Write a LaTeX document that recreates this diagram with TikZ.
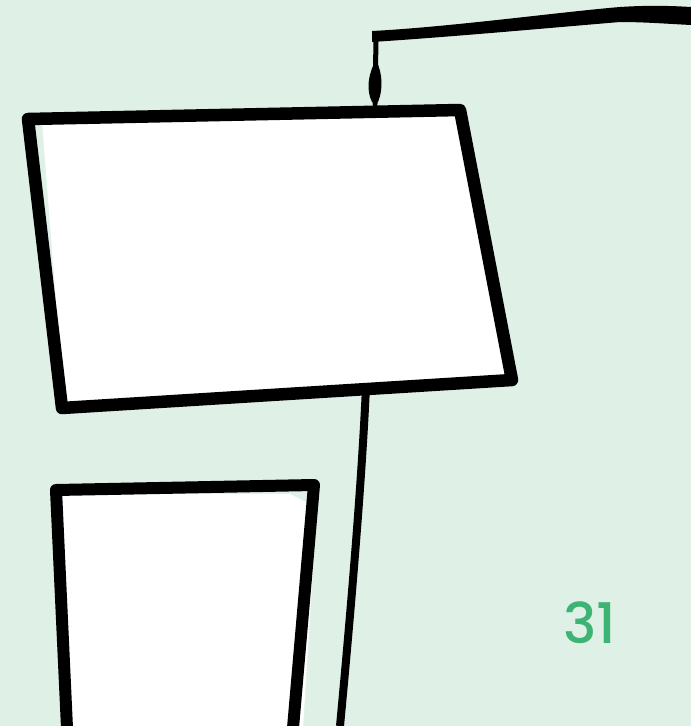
\documentclass[tikz,border=0pt]{standalone}
\usepackage{fontspec}
\newfontfamily\numfont{Poppins Medium}
\definecolor{bgmint}{HTML}{DFF1E6}
\definecolor{numgreen}{HTML}{3DB474}
\tikzset{
  inkline/.style={draw=black, line join=round, line cap=round},
  inkfill/.style={fill=black, draw=none},
  boxfill/.style={fill=white, draw=none},
  pagenum/.style={text=numgreen, font=\numfont\fontsize{56}{56}\selectfont, inner sep=0pt}
}
\begin{document}
\begin{tikzpicture}[x=1pt,y=-1pt]
\fill[bgmint] (0,0) rectangle (691,726);
\useasboundingbox (0,0) rectangle (691,726);
% main box corners
\coordinate (a1) at (28,119);
\coordinate (a2) at (460,110);
\coordinate (a3) at (512,380);
\coordinate (a4) at (62,408);
\fill[boxfill] (42,122) -- (456,113) -- (508,377) -- (64,404) -- cycle;
\draw[inkline, line width=12.5pt] (a1) -- (a2) -- (a3) -- (a4) -- cycle;
% top connector
\coordinate (t0) at (375,104);
\coordinate (t1) at (376,38);
\coordinate (t2) at (691,16);
\draw[inkline, line width=5pt] (t0) -- (t1);
\fill[inkfill] (372,102) .. controls (366,90) and (368,74) .. (376,60) .. controls (383,74) and (383,90) .. (378,102) -- cycle;
\fill[inkfill] (372,31) .. controls (450,27) and (560,12) .. (620,7) .. controls (650,5) and (675,6) .. (691,7)
  -- (691,25) .. controls (670,24) and (645,22) .. (620,22) .. controls (560,27) and (450,37) .. (372,42) -- cycle;
% bottom connector
\coordinate (b0) at (366,386);
\coordinate (b1) at (340,726);
\draw[inkline, line width=8pt, line cap=butt] (b0) .. controls (362,480) and (350,620) .. (b1);
% lower box
\coordinate (c1) at (56,490);
\coordinate (c2) at (314,485);
\coordinate (c3) at (293,728);
\coordinate (c4) at (67,728);
\fill[boxfill] (62,494) -- (290,494) -- (312,505) -- (316,520) -- (303,728) -- (68,728) -- cycle;
\draw[inkline, line width=12pt, line cap=butt] (c4) -- (c1) -- (c2) -- (c3);
% page number
\node[pagenum] (num) at (590,623) {31};
\end{tikzpicture}
\end{document}
